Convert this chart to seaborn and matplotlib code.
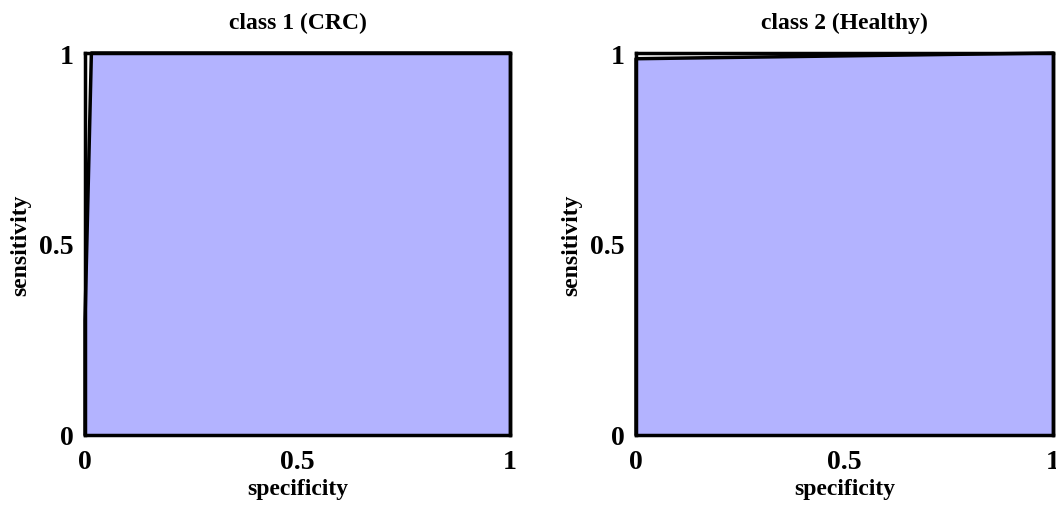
import matplotlib
matplotlib.use("Agg")
import matplotlib.pyplot as plt
import seaborn as sns
import pandas as pd

sns.set_theme(style="white")
plt.rcParams['font.family'] = ['Liberation Serif', 'DejaVu Serif']
plt.rcParams['font.weight'] = 'bold'
plt.rcParams['text.color'] = 'black'
plt.rcParams['axes.labelcolor'] = 'black'

titles = ["class 1 (CRC)", "class 2 (Healthy)"]
spec1 = [0.0, 0.0, 0.015, 1.0]
sens1 = [0.0, 0.3, 1.0, 1.0]
spec2 = [0.0, 0.0, 1.0]
sens2 = [0.0, 0.985, 1.0]
ticks = [0, 0.5, 1]
tick_labels = ["0", "0.5", "1"]

fill_color = "#b3b3ff"

fig = plt.figure(figsize=(10.56, 5.06), dpi=100)
ax1 = fig.add_axes([85/1056, 70/506, 425/1056, 382/506])
ax2 = fig.add_axes([636/1056, 70/506, 417/1056, 382/506])

for ax, title, xs, ys in [(ax1, titles[0], spec1, sens1), (ax2, titles[1], spec2, sens2)]:
    df = pd.DataFrame({"specificity": xs, "sensitivity": ys})
    ax.fill_between(df["specificity"], df["sensitivity"], 0, color=fill_color, lw=0, zorder=1)
    sns.lineplot(data=df, x="specificity", y="sensitivity", ax=ax, color="black",
                 lw=2.5, sort=False, estimator=None, zorder=3, clip_on=False)
    ax.plot([1, 1], [0, ys[-1]], color="black", lw=2.5, zorder=3, clip_on=False)
    ax.set_xlim(0, 1)
    ax.set_ylim(0, 1)
    ax.set_xticks(ticks)
    ax.set_xticklabels(tick_labels)
    ax.set_yticks(ticks)
    ax.set_yticklabels(tick_labels)
    ax.tick_params(direction="in", length=4, width=1.5, top=True, right=True,
                   labelsize=20, colors="black")
    ax.tick_params(axis="x", pad=10)
    ax.tick_params(axis="y", pad=8)
    for lab in ax.get_xticklabels() + ax.get_yticklabels():
        lab.set_fontweight("bold")
    for s in ax.spines.values():
        s.set_linewidth(2.5)
        s.set_color("black")
        s.set_zorder(4)
    ax.set_xlabel("specificity", fontsize=17, fontweight="bold", labelpad=3, color="black")
    ax.set_ylabel("sensitivity", fontsize=17, fontweight="bold", labelpad=6, color="black")
    ax.set_title(title, fontsize=17, fontweight="bold", pad=18, color="black")

fig.savefig("out.png", dpi=100)
